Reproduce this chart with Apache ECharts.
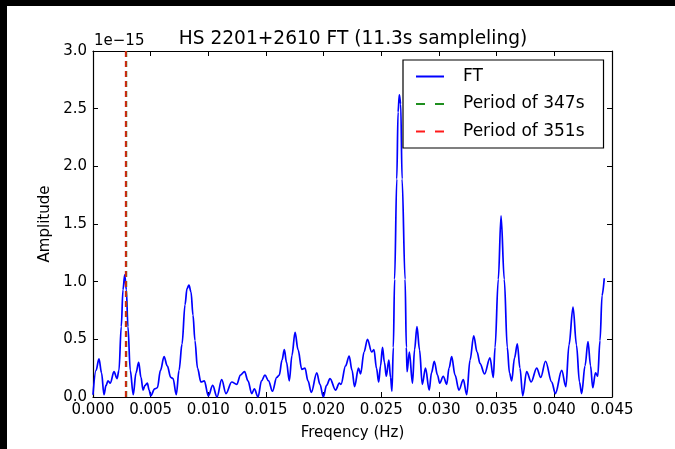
<!DOCTYPE html>
<html>
<head>
<meta charset="utf-8">
<script src="https://cdn.jsdelivr.net/npm/echarts@6/dist/echarts.min.js"></script>
<style>
  html, body { margin: 0; padding: 0; background: #000; }
  #main { position: absolute; left: 7px; top: 6px; width: 668px; height: 443px; background: #fff; }
</style>
</head>
<body>
<div id="main"></div>
<script>
// FT amplitude, frequency in Hz, amplitude in units of 1e-15
var freq = [0.0000, 0.00026, 0.00052, 0.00074, 0.00095, 0.00113, 0.0013, 0.0015, 0.00182, 0.00208,
  0.00225, 0.00245, 0.0026, 0.00275, 0.00289, 0.00303, 0.00323, 0.00349, 0.00373, 0.00396,
  0.00416, 0.00434, 0.00451, 0.00471, 0.00487, 0.0050, 0.00535, 0.00558, 0.00585, 0.00616,
  0.00644, 0.00674, 0.00694, 0.00722, 0.00746, 0.00772, 0.00798, 0.00815, 0.00832, 0.0085,
  0.00867, 0.00884, 0.00906, 0.00936, 0.00965, 0.0100, 0.01038, 0.01075, 0.01116, 0.01153,
  0.01203, 0.01246, 0.01279, 0.01314, 0.01344, 0.01376, 0.01399, 0.01431, 0.01461, 0.01491,
  0.01522, 0.01556, 0.01593, 0.01615, 0.01639, 0.01659, 0.01678, 0.01702, 0.01725, 0.01752,
  0.01778, 0.0181, 0.01838, 0.01864, 0.01893, 0.0194, 0.01968, 0.01997, 0.02025, 0.02055,
  0.02103, 0.02136, 0.0215, 0.0219, 0.02221, 0.02246, 0.02268, 0.02302, 0.0232, 0.0235,
  0.0238, 0.02416, 0.02436, 0.02458, 0.02477, 0.02493, 0.0251, 0.02527, 0.02543, 0.02565,
  0.0258, 0.02592, 0.02604, 0.02615, 0.02634, 0.02645, 0.02656, 0.02668, 0.0268, 0.02706,
  0.02717, 0.02723, 0.02743, 0.0277, 0.02788, 0.02809, 0.02831, 0.02855, 0.02883, 0.02915,
  0.02935, 0.02959, 0.02987, 0.03006, 0.03037, 0.03067, 0.03087, 0.0311, 0.03139, 0.03173,
  0.03211, 0.0324, 0.03269, 0.03301, 0.0333, 0.03356, 0.03395, 0.03442, 0.03471, 0.03486,
  0.03514, 0.03538, 0.03566, 0.03592, 0.03611, 0.0363, 0.03655, 0.03679, 0.03702, 0.03726,
  0.0376, 0.03799, 0.03847, 0.03882, 0.03924, 0.03977, 0.04009, 0.04064, 0.041, 0.04127,
  0.04162, 0.04192, 0.04218, 0.04237, 0.04266, 0.04292, 0.04314, 0.04333, 0.04357, 0.04376,
  0.04396, 0.04414, 0.04433];
var amp = [0.02, 0.23, 0.33, 0.21, 0.02, 0.10, 0.14, 0.12, 0.22, 0.16,
  0.23, 0.61, 0.93, 1.06, 0.93, 0.61, 0.23, 0.02, 0.21, 0.30,
  0.17, 0.06, 0.10, 0.12, 0.06, 0.01, 0.07, 0.08, 0.23, 0.35,
  0.27, 0.17, 0.16, 0.02, 0.23, 0.46, 0.80, 0.94, 0.97, 0.91,
  0.71, 0.49, 0.25, 0.13, 0.14, 0.01, 0.10, 0.00, 0.15, 0.03,
  0.13, 0.11, 0.19, 0.22, 0.14, 0.03, 0.07, 0.00, 0.14, 0.19,
  0.14, 0.05, 0.17, 0.19, 0.32, 0.41, 0.30, 0.14, 0.36, 0.56,
  0.41, 0.24, 0.25, 0.14, 0.04, 0.21, 0.11, 0.00, 0.10, 0.16,
  0.06, 0.12, 0.11, 0.27, 0.355, 0.23, 0.09, 0.25, 0.20, 0.39,
  0.50, 0.39, 0.41, 0.25, 0.13, 0.27, 0.43, 0.30, 0.18, 0.32,
  0.17, 0.05, 0.43, 1.02, 1.89, 2.47, 2.62, 2.54, 1.89, 1.02,
  0.43, 0.22, 0.39, 0.12, 0.41, 0.61, 0.41, 0.11, 0.25, 0.06,
  0.21, 0.31, 0.19, 0.12, 0.18, 0.11, 0.25, 0.35, 0.19, 0.06,
  0.15, 0.02, 0.32, 0.53, 0.39, 0.29, 0.20, 0.34, 0.17, 0.43,
  1.02, 1.57, 1.02, 0.43, 0.21, 0.14, 0.34, 0.46, 0.25, 0.01,
  0.22, 0.13, 0.25, 0.17, 0.31, 0.13, 0.03, 0.23, 0.09, 0.45,
  0.78, 0.45, 0.13, 0.03, 0.27, 0.48, 0.27, 0.08, 0.21, 0.18,
  0.49, 0.88, 1.03];
var periods = [347, 351];
var xTicks = [0, 0.045, 0.005];
var yTicks = [0, 3.0, 0.5];

var chart = echarts.init(document.getElementById('main'));

var ftData = [];
for (var i = 0; i < freq.length; i++) ftData.push([freq[i], amp[i]]);
function vline(p) { return [[1 / p, yTicks[0]], [1 / p, yTicks[1]]]; }

var tickFont = { fontFamily: 'DejaVu Sans', fontSize: 15, color: '#000' };

var option = {
  animation: false,
  title: {
    text: 'HS 2201+2610 FT (11.3s sampleling)',
    left: 341, top: 19, textAlign: 'center',
    textStyle: { fontFamily: 'DejaVu Sans', fontSize: 18.6, fontWeight: 'normal', color: '#000' }
  },
  graphic: [{
    type: 'text', left: 87, top: 28,
    style: { text: '1e\u221215', font: '15px "DejaVu Sans"', fill: '#000' }
  }],
  legend: {
    orient: 'vertical', left: 396, top: 54,
    backgroundColor: '#fff', borderColor: '#000', borderWidth: 1.2, borderRadius: 0,
    padding: [8, 19, 8, 12], itemGap: 10.5, itemWidth: 28, itemHeight: 14,
    itemStyle: { opacity: 0 },
    textStyle: { fontFamily: 'DejaVu Sans', fontSize: 17, color: '#000', padding: [0, 0, 0, 14] },
    data: [
      { name: 'FT' },
      { name: 'Period of 347s', lineStyle: { color: '#1f8f1f', type: [9, 10] } },
      { name: 'Period of 351s', lineStyle: { color: '#ff1a1a', type: [9, 10] } }
    ]
  },
  grid: { left: 86, top: 45, right: 63, bottom: 52 },
  xAxis: [{
    type: 'value', min: xTicks[0], max: xTicks[1], interval: xTicks[2],
    name: 'Freqency (Hz)', nameLocation: 'middle', nameGap: 29,
    nameTextStyle: { fontFamily: 'DejaVu Sans', fontSize: 15, color: '#000' },
    axisLine: { onZero: false, lineStyle: { color: '#000', width: 1.2 } },
    axisTick: { inside: true, length: 5, lineStyle: { color: '#000' } },
    axisLabel: Object.assign({ margin: 6, formatter: function (v) { return v.toFixed(3); } }, tickFont),
    splitLine: { show: false }
  }, {
    type: 'value', position: 'top', min: xTicks[0], max: xTicks[1], interval: xTicks[2],
    axisLine: { show: true, onZero: false, lineStyle: { color: '#000', width: 1.2 } },
    axisTick: { show: true, inside: true, length: 5, lineStyle: { color: '#000' } },
    axisLabel: { show: false }, splitLine: { show: false }
  }],
  yAxis: [{
    type: 'value', min: yTicks[0], max: yTicks[1], interval: yTicks[2],
    name: 'Amplitude', nameLocation: 'middle', nameGap: 38, nameRotate: 90,
    nameTextStyle: { fontFamily: 'DejaVu Sans', fontSize: 15, color: '#000' },
    axisLine: { show: true, onZero: false, lineStyle: { color: '#000', width: 1.2 } },
    axisTick: { show: true, inside: true, length: 5, lineStyle: { color: '#000' } },
    axisLabel: Object.assign({ margin: 6, formatter: function (v) { return v.toFixed(1); } }, tickFont),
    splitLine: { show: false }
  }, {
    type: 'value', position: 'right', min: yTicks[0], max: yTicks[1], interval: yTicks[2],
    axisLine: { show: true, onZero: false, lineStyle: { color: '#000', width: 1.2 } },
    axisTick: { show: true, inside: true, length: 5, lineStyle: { color: '#000' } },
    axisLabel: { show: false }, splitLine: { show: false }
  }],
  series: [{
    name: 'FT', type: 'line', data: ftData, smooth: 0.35, smoothMonotone: 'x',
    showSymbol: false, symbol: 'none',
    itemStyle: { color: '#0000ff' }, lineStyle: { color: '#0000ff', width: 1.7 }, z: 3
  }, {
    name: 'Period of 347s', type: 'line', data: vline(periods[0]), showSymbol: false, symbol: 'none',
    itemStyle: { color: '#008000' }, lineStyle: { color: '#2a8a2a', width: 2, type: [6, 4] }, z: 4
  }, {
    name: 'Period of 351s', type: 'line', data: vline(periods[1]), showSymbol: false, symbol: 'none',
    itemStyle: { color: '#ff0000' }, lineStyle: { color: '#d02810', width: 2, type: [6, 4] }, z: 5
  }]
};
chart.setOption(option);
</script>
</body>
</html>
